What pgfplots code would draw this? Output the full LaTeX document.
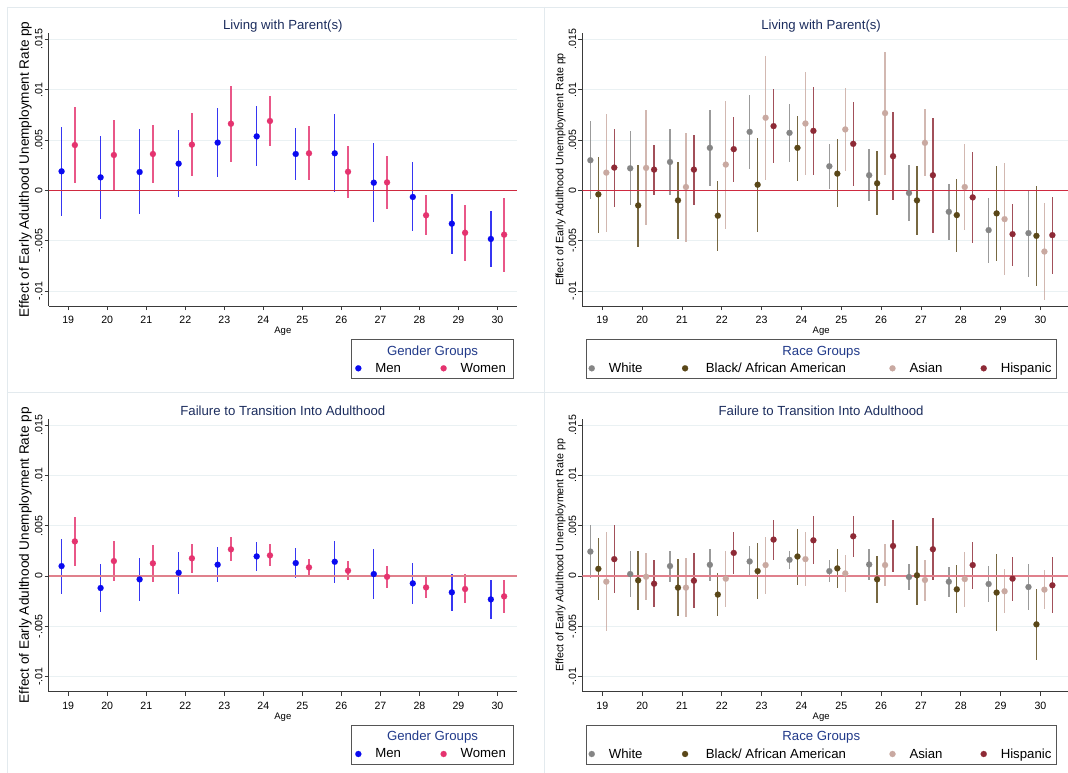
\documentclass[border=0pt]{standalone}
\usepackage{pgfplots}
\pgfplotsset{compat=1.18}
\usepackage{pgfplotstable}
\usepackage{fontspec}
\setmainfont{Liberation Sans}

\definecolor{titlenavy}{HTML}{1C2D5E}
\definecolor{legnavy}{HTML}{213A8A}
\definecolor{gridc}{HTML}{EAF1F3}
\definecolor{framec}{HTML}{E3EAEE}
\definecolor{axisc}{HTML}{3A3A3A}
\definecolor{legbox}{HTML}{555555}
\definecolor{zeroc}{HTML}{CF2A40}
\definecolor{zerocb}{HTML}{E0808C}
\definecolor{menc}{HTML}{0A0AF0}
\definecolor{womenc}{HTML}{E5336F}
\definecolor{whitec}{HTML}{858585}
\definecolor{blackc}{HTML}{5A4718}
\definecolor{asianc}{HTML}{C9A9A1}
\definecolor{hispc}{HTML}{8E2A36}

% point estimates with lower / upper bounds of the confidence interval
% gender: men (my ml mu), women (fy fl fu)
\pgfplotstableread{
age my ml mu fy fl fu
19 0.00189 -0.00255 0.00629 0.00450 0.00076 0.00825
20 0.00129 -0.00285 0.00543 0.00351 0.00000 0.00699
21 0.00182 -0.00238 0.00609 0.00361 0.00073 0.00649
22 0.00265 -0.00070 0.00603 0.00454 0.00142 0.00768
23 0.00474 0.00136 0.00815 0.00662 0.00285 0.01036
24 0.00536 0.00242 0.00838 0.00689 0.00444 0.00937
25 0.00361 0.00103 0.00623 0.00368 0.00103 0.00639
26 0.00368 -0.00017 0.00758 0.00185 -0.00073 0.00444
27 0.00076 -0.00315 0.00470 0.00079 -0.00185 0.00344
28 -0.00066 -0.00400 0.00278 -0.00248 -0.00447 -0.00046
29 -0.00331 -0.00629 -0.00036 -0.00421 -0.00699 -0.00146
30 -0.00483 -0.00758 -0.00205 -0.00440 -0.00808 -0.00073
}\genderLiving

\pgfplotstableread{
age my ml mu fy fl fu
19 0.00099 -0.00182 0.00371 0.00344 0.00099 0.00586
20 -0.00119 -0.00358 0.00116 0.00149 -0.00046 0.00348
21 -0.00033 -0.00248 0.00179 0.00126 -0.00056 0.00308
22 0.00033 -0.00176 0.00242 0.00176 0.00033 0.00321
23 0.00113 -0.00060 0.00288 0.00265 0.00146 0.00387
24 0.00195 0.00053 0.00338 0.00205 0.00096 0.00321
25 0.00129 -0.00020 0.00278 0.00086 0.00000 0.00172
26 0.00142 -0.00066 0.00351 0.00053 -0.00036 0.00149
27 0.00020 -0.00228 0.00268 -0.00007 -0.00123 0.00099
28 -0.00073 -0.00275 0.00129 -0.00113 -0.00215 -0.00013
29 -0.00162 -0.00344 0.00020 -0.00129 -0.00272 0.00017
30 -0.00232 -0.00424 -0.00040 -0.00202 -0.00368 -0.00040
}\genderFail

% race: white (wy wl wu), black (by bl bu), asian (ay al au), hispanic (hy hl hu)
\pgfplotstableread{
age wy wl wu by bl bu ay al au hy hl hu
19 0.00299 -0.00090 0.00684 -0.00040 -0.00422 0.00329 0.00176 -0.00412 0.00761 0.00226 -0.00163 0.00611
20 0.00219 -0.00150 0.00585 -0.00150 -0.00561 0.00253 0.00223 -0.00342 0.00794 0.00206 -0.00047 0.00449
21 0.00282 -0.00050 0.00611 -0.00100 -0.00488 0.00286 0.00033 -0.00512 0.00571 0.00206 -0.00143 0.00551
22 0.00422 0.00047 0.00794 -0.00252 -0.00605 0.00093 0.00256 -0.00382 0.00884 0.00409 0.00080 0.00731
23 0.00581 0.00213 0.00950 0.00056 -0.00409 0.00518 0.00721 0.00103 0.01339 0.00638 0.00269 0.01007
24 0.00571 0.00286 0.00857 0.00422 0.00093 0.00741 0.00664 0.00156 0.01173 0.00591 0.00153 0.01027
25 0.00239 0.00017 0.00459 0.00166 -0.00169 0.00508 0.00605 0.00196 0.01013 0.00462 0.00047 0.00877
26 0.00150 -0.00106 0.00409 0.00070 -0.00249 0.00392 0.00767 0.00153 0.01375 0.00339 -0.00100 0.00774
27 -0.00027 -0.00306 0.00249 -0.00100 -0.00442 0.00239 0.00472 0.00140 0.00804 0.00150 -0.00422 0.00718
28 -0.00213 -0.00495 0.00063 -0.00246 -0.00608 0.00113 0.00033 -0.00392 0.00459 -0.00070 -0.00522 0.00379
29 -0.00395 -0.00721 -0.00076 -0.00229 -0.00701 0.00239 -0.00286 -0.00844 0.00269 -0.00435 -0.00748 -0.00133
30 -0.00425 -0.00857 0.00000 -0.00452 -0.00947 0.00043 -0.00608 -0.01093 -0.00123 -0.00445 -0.00834 -0.00063
}\raceLiving

\pgfplotstableread{
age wy wl wu by bl bu ay al au hy hl hu
19 0.00243 -0.00016 0.00505 0.00072 -0.00234 0.00375 -0.00056 -0.00549 0.00438 0.00168 -0.00168 0.00507
20 0.00020 -0.00207 0.00247 -0.00043 -0.00336 0.00253 -0.00007 -0.00234 0.00227 -0.00076 -0.00306 0.00155
21 0.00099 -0.00056 0.00250 -0.00115 -0.00398 0.00168 -0.00115 -0.00411 0.00178 -0.00046 -0.00322 0.00230
22 0.00112 -0.00046 0.00266 -0.00184 -0.00401 0.00033 -0.00026 -0.00303 0.00247 0.00230 0.00023 0.00438
23 0.00145 -0.00003 0.00296 0.00049 -0.00230 0.00326 0.00109 -0.00178 0.00388 0.00362 0.00164 0.00556
24 0.00161 0.00072 0.00250 0.00194 -0.00086 0.00464 0.00168 -0.00102 0.00438 0.00355 0.00115 0.00592
25 0.00049 -0.00056 0.00155 0.00076 -0.00115 0.00266 0.00026 -0.00158 0.00207 0.00395 0.00194 0.00592
26 0.00115 -0.00036 0.00266 -0.00033 -0.00270 0.00204 0.00109 -0.00102 0.00316 0.00299 0.00043 0.00553
27 -0.00010 -0.00141 0.00118 0.00007 -0.00290 0.00303 -0.00039 -0.00243 0.00164 0.00266 -0.00039 0.00572
28 -0.00056 -0.00204 0.00092 -0.00132 -0.00372 0.00105 -0.00030 -0.00303 0.00240 0.00109 -0.00128 0.00342
29 -0.00079 -0.00253 0.00099 -0.00164 -0.00543 0.00217 -0.00151 -0.00372 0.00069 -0.00026 -0.00243 0.00188
30 -0.00109 -0.00336 0.00122 -0.00480 -0.00836 -0.00128 -0.00135 -0.00329 0.00063 -0.00092 -0.00372 0.00188
}\raceFail

\newcommand{\fsz}[1]{\fontsize{#1}{#1}\selectfont}
% legend labels with the spacing of the race key
\newcommand{\blackentry}{\hspace*{3.7pt}Black/ African American\hspace*{4pt}}
\newcommand{\asianentry}{Asian\hspace*{-1.4pt}}

\pgfplotsset{
  panel/.style={
    scale only axis,
    height=273pt,
    anchor=north west,
    xmin=18.5, ymin=-0.01149, ymax=0.01563,
    axis lines*=left,
    axis line style={axisc, line width=0.8pt},
    tick style={axisc, line width=0.8pt},
    tick align=outside,
    major tick length=4pt,
    scaled y ticks=false, scaled x ticks=false,
    xtick={19,20,21,22,23,24,25,26,27,28,29,30},
    xticklabels={19,20,21,22,23,24,25,26,27,28,29,30},
    ytick={-0.01,-0.005,0,0.005,0.01,0.015},
    yticklabels={-.01,-.005,0,.005,.01,.015},
    ymajorgrids,
    grid style={gridc, line width=0.8pt},
    ticklabel style={font=\fsz{10.6}, inner sep=0pt},
    xticklabel style={anchor=north, yshift=-6pt},
    yticklabel style={xshift=-2pt, rotate=90, anchor=south},
    every axis title shift=0pt,
    title style={font=\fsz{13.2}, text=titlenavy, anchor=base},
    xlabel={Age},
    xlabel style={font=\fsz{9.5}, anchor=base},
    ylabel={Effect of Early Adulthood Unemployment Rate pp},
    legend cell align=left,
    legend image code/.code={\draw[#1] plot coordinates {(0pt,0pt)};},
    legend style={draw=none, fill=none, inner sep=0pt, outer sep=0pt,
      font=\fsz{13.2}, anchor=west, nodes={inner sep=0pt},
      /tikz/every odd column/.append style={column sep=14pt},
      /tikz/every even column/.append style={column sep=39.5pt}},
  },
  leftpanel/.style={panel, width=468.3pt, xmax=30.5,
    title style={at={(axis description cs:0.5,1.01355)}},
    xlabel style={at={(axis description cs:0.5,-0.1018)}},
    ylabel style={font=\fsz{13.6}, at={(axis description cs:-0.0425,0.5)}, anchor=base},
    legend columns=2,
    legend style={at={(axis description cs:0.6547,-0.2282)}}},
  rightpanel/.style={panel, width=485.9pt, xmax=30.7,
    title style={at={(axis description cs:0.4913,1.01355)}},
    xlabel style={at={(axis description cs:0.4913,-0.1018)}},
    ylabel style={font=\fsz{10.7}, at={(axis description cs:-0.0391,0.5)}, anchor=base},
    legend columns=4,
    legend style={at={(axis description cs:0.01297,-0.2282)}}},
  % confidence interval spikes only
  ci/.style={forget plot, only marks, mark=none,
    error bars/.cd, y dir=both, y explicit, error mark=none,
    error bar style={#1, line width=1.35pt, opacity=0.82}},
  % point estimates
  pt/.style={only marks, mark=*, mark size=3.05pt, color=#1,
    mark options={draw=#1, fill=#1, line width=0.1pt}},
}

\begin{document}
\begin{tikzpicture}
\path[use as bounding box, fill=white] (0pt,0pt) rectangle (1068pt,-773pt);
\clip (0pt,0pt) rectangle (1068pt,-773pt);

% faint panel frames
\draw[framec, line width=0.8pt] (7pt,-7pt) -- (1068pt,-7pt);
\draw[framec, line width=0.8pt] (7pt,-392pt) -- (1068pt,-392pt);
\draw[framec, line width=0.8pt] (7pt,-7pt) -- (7pt,-773pt);
\draw[framec, line width=0.8pt] (544pt,-7pt) -- (544pt,-773pt);

% ---------- top left: living with parents, by gender ----------
\begin{axis}[leftpanel, at={(48.7pt,-33pt)}, title={Living with Parent(s)}]
\addplot[ci=menc] table[x expr=\thisrow{age}-0.17, y=my,
  y error plus expr=\thisrow{mu}-\thisrow{my}, y error minus expr=\thisrow{my}-\thisrow{ml}] {\genderLiving};
\addplot[ci=womenc] table[x expr=\thisrow{age}+0.17, y=fy,
  y error plus expr=\thisrow{fu}-\thisrow{fy}, y error minus expr=\thisrow{fy}-\thisrow{fl}] {\genderLiving};
\addplot[forget plot, zeroc, line width=1pt, no marks] coordinates {(18.5,0) (30.5,0)};
\addplot[pt=menc] table[x expr=\thisrow{age}-0.17, y=my] {\genderLiving};
\addlegendentry{Men}
\addplot[pt=womenc] table[x expr=\thisrow{age}+0.17, y=fy] {\genderLiving};
\addlegendentry{Women}
\end{axis}

% ---------- top right: living with parents, by race ----------
\begin{axis}[rightpanel, at={(582.4pt,-33pt)}, title={Living with Parent(s)}]
\addplot[ci=whitec] table[x expr=\thisrow{age}-0.3, y=wy,
  y error plus expr=\thisrow{wu}-\thisrow{wy}, y error minus expr=\thisrow{wy}-\thisrow{wl}] {\raceLiving};
\addplot[ci=blackc] table[x expr=\thisrow{age}-0.1, y=by,
  y error plus expr=\thisrow{bu}-\thisrow{by}, y error minus expr=\thisrow{by}-\thisrow{bl}] {\raceLiving};
\addplot[ci=asianc] table[x expr=\thisrow{age}+0.1, y=ay,
  y error plus expr=\thisrow{au}-\thisrow{ay}, y error minus expr=\thisrow{ay}-\thisrow{al}] {\raceLiving};
\addplot[ci=hispc] table[x expr=\thisrow{age}+0.3, y=hy,
  y error plus expr=\thisrow{hu}-\thisrow{hy}, y error minus expr=\thisrow{hy}-\thisrow{hl}] {\raceLiving};
\addplot[forget plot, zeroc, line width=1pt, no marks] coordinates {(18.5,0) (30.7,0)};
\addplot[pt=whitec] table[x expr=\thisrow{age}-0.3, y=wy] {\raceLiving};
\addlegendentry{White}
\addplot[pt=blackc] table[x expr=\thisrow{age}-0.1, y=by] {\raceLiving};
\addlegendentry{\blackentry}
\addplot[pt=asianc] table[x expr=\thisrow{age}+0.1, y=ay] {\raceLiving};
\addlegendentry{\asianentry}
\addplot[pt=hispc] table[x expr=\thisrow{age}+0.3, y=hy] {\raceLiving};
\addlegendentry{Hispanic}
\end{axis}

% ---------- bottom left: failure to transition, by gender ----------
\begin{axis}[leftpanel, at={(48.7pt,-418.7pt)}, title={Failure to Transition Into Adulthood}]
\addplot[ci=menc] table[x expr=\thisrow{age}-0.17, y=my,
  y error plus expr=\thisrow{mu}-\thisrow{my}, y error minus expr=\thisrow{my}-\thisrow{ml}] {\genderFail};
\addplot[ci=womenc] table[x expr=\thisrow{age}+0.17, y=fy,
  y error plus expr=\thisrow{fu}-\thisrow{fy}, y error minus expr=\thisrow{fy}-\thisrow{fl}] {\genderFail};
\addplot[forget plot, zerocb, line width=2pt, no marks] coordinates {(18.5,0) (30.5,0)};
\addplot[pt=menc] table[x expr=\thisrow{age}-0.17, y=my] {\genderFail};
\addlegendentry{Men}
\addplot[pt=womenc] table[x expr=\thisrow{age}+0.17, y=fy] {\genderFail};
\addlegendentry{Women}
\end{axis}

% ---------- bottom right: failure to transition, by race ----------
\begin{axis}[rightpanel, at={(582.4pt,-418.7pt)}, title={Failure to Transition Into Adulthood}]
\addplot[ci=whitec] table[x expr=\thisrow{age}-0.3, y=wy,
  y error plus expr=\thisrow{wu}-\thisrow{wy}, y error minus expr=\thisrow{wy}-\thisrow{wl}] {\raceFail};
\addplot[ci=blackc] table[x expr=\thisrow{age}-0.1, y=by,
  y error plus expr=\thisrow{bu}-\thisrow{by}, y error minus expr=\thisrow{by}-\thisrow{bl}] {\raceFail};
\addplot[ci=asianc] table[x expr=\thisrow{age}+0.1, y=ay,
  y error plus expr=\thisrow{au}-\thisrow{ay}, y error minus expr=\thisrow{ay}-\thisrow{al}] {\raceFail};
\addplot[ci=hispc] table[x expr=\thisrow{age}+0.3, y=hy,
  y error plus expr=\thisrow{hu}-\thisrow{hy}, y error minus expr=\thisrow{hy}-\thisrow{hl}] {\raceFail};
\addplot[forget plot, zerocb, line width=2pt, no marks] coordinates {(18.5,0) (30.7,0)};
\addplot[pt=whitec] table[x expr=\thisrow{age}-0.3, y=wy] {\raceFail};
\addlegendentry{White}
\addplot[pt=blackc] table[x expr=\thisrow{age}-0.1, y=by] {\raceFail};
\addlegendentry{\blackentry}
\addplot[pt=asianc] table[x expr=\thisrow{age}+0.1, y=ay] {\raceFail};
\addlegendentry{\asianentry}
\addplot[pt=hispc] table[x expr=\thisrow{age}+0.3, y=hy] {\raceFail};
\addlegendentry{Hispanic}
\end{axis}

% legend frames and legend titles
\draw[legbox, line width=0.9pt] (351.7pt,-339.3pt) rectangle (513.3pt,-378.3pt);
\draw[legbox, line width=0.9pt] (586pt,-339.3pt) rectangle (1056.7pt,-378.3pt);
\draw[legbox, line width=0.9pt] (351.7pt,-725pt) rectangle (513.3pt,-764pt);
\draw[legbox, line width=0.9pt] (586pt,-725pt) rectangle (1056.7pt,-764pt);
\node[anchor=base, font=\fsz{13.2}, text=legnavy] at (432.5pt,-355pt) {Gender Groups};
\node[anchor=base, font=\fsz{13.2}, text=legnavy] at (821.3pt,-355pt) {Race Groups};
\node[anchor=base, font=\fsz{13.2}, text=legnavy] at (432.5pt,-740.7pt) {Gender Groups};
\node[anchor=base, font=\fsz{13.2}, text=legnavy] at (821.3pt,-740.7pt) {Race Groups};
\end{tikzpicture}
\end{document}
